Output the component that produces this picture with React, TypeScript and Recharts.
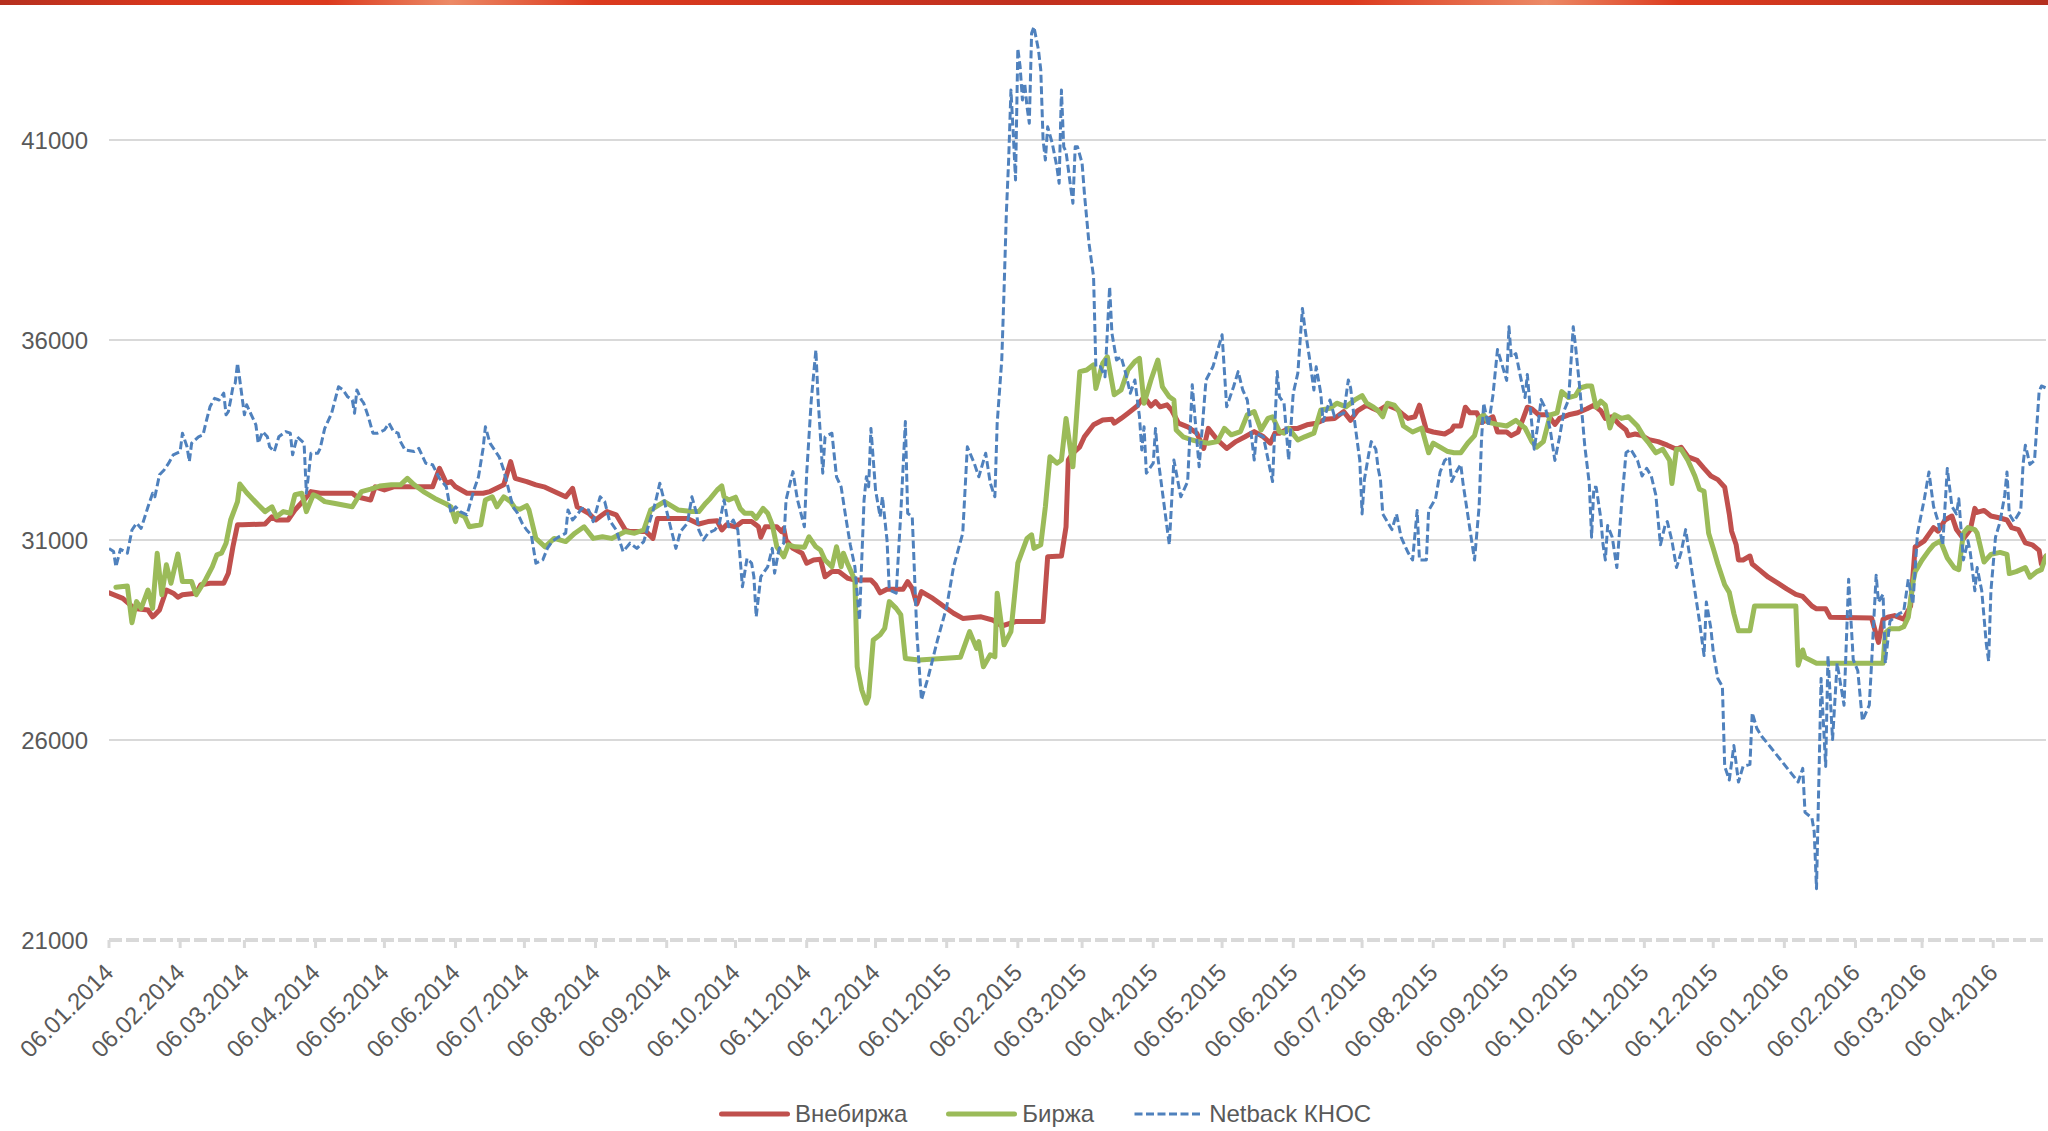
import { LineChart, Line, XAxis, YAxis, CartesianGrid, Legend } from "recharts";

// x = days since 06.01.2014, y = rub/t
const vnebirzha: [number, number][] = [
  [0, 29680], [6, 29540], [11, 29290], [17, 29250], [19, 29080], [20, 29130], [22, 29250], [23, 29420],
  [25, 29750], [28, 29670], [30, 29570], [32, 29630], [35, 29650], [38, 29670], [40, 29880], [44, 29920],
  [50, 29920], [52, 30170], [54, 30830], [56, 31380], [58, 31380], [68, 31400], [71, 31580], [73, 31500],
  [78, 31500], [81, 31750], [85, 32000], [88, 32210], [92, 32170], [106, 32170], [108, 32080], [114, 32000],
  [116, 32330], [120, 32250], [124, 32330], [141, 32330], [144, 32790], [147, 32420], [149, 32460], [151, 32330],
  [156, 32170], [163, 32170], [166, 32210], [172, 32380], [175, 32960], [177, 32540], [182, 32460], [186, 32380],
  [190, 32320], [194, 32210], [199, 32080], [202, 32290], [204, 31830], [209, 31670], [212, 31500], [215, 31630],
  [217, 31710], [221, 31630], [225, 31250], [227, 31210], [234, 31210], [237, 31040], [239, 31540], [252, 31540],
  [257, 31400], [261, 31460], [265, 31480], [267, 31250], [269, 31380], [273, 31330], [276, 31460], [280, 31460],
  [283, 31330], [284, 31070], [286, 31330], [291, 31330], [293, 31210], [294, 31290], [295, 31000], [298, 30790],
  [302, 30670], [304, 30420], [307, 30500], [310, 30520], [312, 30080], [315, 30210], [318, 30210], [322, 30040],
  [325, 30000], [332, 30000], [334, 29880], [336, 29680], [339, 29770], [346, 29770], [348, 29960], [350, 29790],
  [352, 29400], [354, 29710], [359, 29540], [364, 29330], [368, 29170], [372, 29040], [380, 29080], [385, 29000],
  [389, 28850], [395, 28960], [407, 28960], [409, 30580], [415, 30600], [417, 31330], [418, 33000], [420, 33170],
  [423, 33330], [425, 33580], [429, 33880], [433, 34000], [437, 34020], [438, 33920], [441, 34040], [444, 34170],
  [448, 34350], [451, 34580], [454, 34350], [456, 34460], [458, 34330], [461, 34380], [463, 34250], [466, 33920],
  [470, 33830], [474, 33670], [477, 33290], [479, 33790], [483, 33500], [487, 33290], [491, 33460], [495, 33580],
  [499, 33710], [503, 33580], [506, 33420], [508, 33670], [510, 33670], [514, 33790], [518, 33790], [522, 33880],
  [526, 33920], [530, 34020], [534, 34040], [538, 34210], [541, 33990], [544, 34230], [548, 34370], [551, 34280],
  [553, 34230], [557, 34370], [561, 34280], [564, 34130], [566, 34040], [569, 34080], [571, 34370], [574, 33750],
  [577, 33700], [582, 33650], [585, 33750], [586, 33850], [589, 33850], [591, 34320], [593, 34180], [596, 34180],
  [598, 33940], [600, 33990], [603, 34080], [605, 33700], [609, 33700], [611, 33610], [614, 33700], [618, 34320],
  [620, 34280], [623, 34130], [627, 34130], [630, 33890], [632, 34040], [636, 34130], [640, 34180], [644, 34280],
  [647, 34370], [650, 34230], [652, 34040], [655, 34080], [658, 33890], [661, 33750], [662, 33610], [665, 33650],
  [668, 33610], [671, 33510], [675, 33460], [679, 33370], [683, 33270], [685, 33320], [688, 33080], [692, 32990],
  [695, 32790], [698, 32600], [701, 32510], [704, 32320], [706, 31650], [707, 31220], [709, 30880], [710, 30500],
  [712, 30500], [715, 30600], [716, 30400], [719, 30260], [723, 30070], [727, 29930], [731, 29780], [735, 29640],
  [738, 29590], [742, 29350], [744, 29280], [748, 29280], [750, 29070], [768, 29050], [771, 28440], [773, 29020],
  [775, 29070], [778, 29110], [782, 29020], [785, 29350], [787, 30830], [791, 30980], [795, 31310], [797, 31220],
  [800, 31500], [803, 31600], [805, 31260], [808, 31030], [811, 31260], [813, 31790], [814, 31690], [817, 31740],
  [820, 31600], [824, 31550], [827, 31500], [829, 31310], [832, 31260], [835, 30930], [838, 30880], [841, 30740],
  [842, 30400], [844, 30600],
];

const birzha: [number, number][] = [
  [3, 29820], [8, 29850], [10, 28930], [12, 29460], [14, 29290], [16, 29600], [17, 29750], [19, 29290],
  [21, 30670], [23, 29630], [25, 30380], [27, 29920], [30, 30650], [32, 29960], [36, 29960], [38, 29630],
  [42, 30000], [45, 30330], [47, 30630], [49, 30670], [51, 30920], [53, 31500], [56, 31960], [57, 32400],
  [60, 32180], [65, 31880], [68, 31710], [71, 31830], [73, 31580], [76, 31710], [79, 31670], [81, 32130],
  [84, 32170], [86, 31710], [89, 32130], [91, 32080], [94, 31960], [98, 31920], [106, 31830], [110, 32210],
  [114, 32270], [118, 32350], [123, 32380], [127, 32380], [130, 32540], [133, 32380], [137, 32210], [142, 32040],
  [147, 31900], [149, 31830], [151, 31460], [152, 31670], [155, 31580], [157, 31330], [162, 31380], [164, 32000],
  [167, 32080], [169, 31830], [172, 32080], [175, 31960], [177, 31790], [179, 31770], [182, 31860], [183, 31750],
  [186, 31040], [190, 30830], [194, 31040], [199, 30960], [203, 31170], [207, 31330], [211, 31040], [215, 31080],
  [219, 31040], [225, 31210], [229, 31170], [233, 31250], [236, 31750], [242, 31960], [248, 31750], [254, 31710],
  [257, 31710], [260, 31920], [262, 32040], [265, 32250], [267, 32350], [268, 32080], [270, 32000], [273, 32070],
  [275, 31790], [277, 31670], [280, 31670], [282, 31540], [285, 31790], [287, 31670], [289, 31380], [291, 30830],
  [294, 30580], [296, 30880], [299, 30830], [303, 30820], [305, 31080], [308, 30830], [310, 30750], [312, 30500],
  [315, 30330], [317, 30830], [319, 30330], [320, 30670], [322, 30380], [325, 30000], [326, 27830], [328, 27250],
  [330, 26920], [331, 27080], [333, 28500], [336, 28630], [338, 28790], [340, 29460], [343, 29290], [345, 29130],
  [347, 28040], [353, 28000], [363, 28040], [371, 28070], [375, 28710], [378, 28290], [379, 28460], [381, 27830],
  [384, 28130], [386, 28080], [387, 29670], [390, 28380], [393, 28710], [396, 30420], [400, 31040], [402, 31130],
  [403, 30790], [406, 30880], [408, 31830], [410, 33080], [413, 32920], [415, 33000], [417, 34040], [420, 32830],
  [423, 35210], [426, 35250], [429, 35380], [430, 34790], [433, 35420], [435, 35580], [438, 34630], [441, 34750],
  [444, 35250], [447, 35460], [449, 35540], [451, 34420], [454, 35000], [457, 35500], [459, 34830], [462, 34580],
  [464, 34500], [465, 33750], [468, 33580], [472, 33500], [475, 33460], [479, 33420], [483, 33460], [486, 33790],
  [489, 33630], [493, 33710], [496, 34130], [499, 34210], [502, 33750], [505, 34040], [507, 34080], [510, 33710],
  [512, 33670], [514, 33790], [518, 33500], [521, 33580], [525, 33670], [528, 34250], [532, 34290], [535, 34420],
  [539, 34330], [541, 34420], [543, 34510], [546, 34610], [548, 34420], [551, 34320], [553, 34230], [555, 34080],
  [557, 34420], [560, 34370], [562, 34230], [564, 33850], [568, 33700], [572, 33800], [575, 33180], [577, 33420],
  [580, 33320], [583, 33220], [586, 33180], [589, 33180], [592, 33420], [595, 33610], [597, 34040], [599, 34130],
  [601, 33940], [605, 33890], [609, 33850], [613, 33990], [617, 33800], [620, 33460], [622, 33320], [625, 33460],
  [628, 34130], [631, 34180], [633, 34710], [636, 34560], [639, 34610], [641, 34800], [644, 34850], [646, 34850],
  [648, 34320], [650, 34470], [652, 34370], [654, 33800], [656, 34130], [659, 34040], [662, 34080], [666, 33850],
  [669, 33560], [671, 33420], [674, 33180], [677, 33270], [680, 32990], [681, 32410], [683, 33270], [685, 33270],
  [688, 32990], [691, 32600], [693, 32270], [695, 32220], [697, 31170], [699, 30790], [701, 30400], [704, 29880],
  [706, 29690], [708, 29160], [710, 28730], [715, 28730], [717, 29350], [735, 29350], [736, 27870], [738, 28250],
  [739, 28060], [744, 27920], [773, 27920], [774, 28680], [776, 28780], [780, 28780], [782, 28830], [784, 29070],
  [786, 29930], [787, 30210], [790, 30500], [793, 30740], [795, 30880], [798, 30980], [801, 30550], [804, 30310],
  [806, 30260], [808, 31170], [810, 31310], [813, 31260], [814, 31170], [817, 30450], [820, 30640], [824, 30690],
  [827, 30640], [828, 30160], [831, 30210], [835, 30310], [837, 30070], [840, 30210], [842, 30260], [844, 30600],
];

const netback: [number, number][] = [
  [0, 30790], [2, 30710], [3, 30330], [5, 30770], [8, 30670], [10, 31250], [12, 31420], [14, 31290],
  [17, 31830], [19, 32170], [20, 32080], [22, 32630], [24, 32750], [26, 32920], [28, 33130], [31, 33210],
  [32, 33670], [34, 33330], [35, 32960], [36, 33420], [39, 33580], [41, 33630], [42, 33880], [44, 34330],
  [46, 34540], [48, 34500], [50, 34670], [51, 34130], [52, 34210], [53, 34500], [54, 34830], [55, 34920],
  [56, 35420], [57, 35000], [59, 34130], [60, 34380], [62, 34130], [64, 33880], [65, 33420], [67, 33710],
  [69, 33580], [70, 33330], [72, 33210], [74, 33580], [77, 33710], [79, 33670], [80, 33130], [82, 33580],
  [85, 33420], [86, 32170], [88, 33170], [91, 33170], [92, 33290], [94, 33790], [97, 34170], [100, 34830],
  [102, 34750], [104, 34580], [106, 34500], [107, 34170], [108, 34750], [110, 34500], [111, 34420], [113, 34080],
  [115, 33670], [117, 33670], [120, 33750], [122, 33920], [124, 33710], [126, 33670], [127, 33460], [129, 33250],
  [133, 33210], [135, 33290], [138, 32920], [141, 32880], [144, 32540], [147, 32330], [149, 31670], [151, 31830],
  [153, 31710], [156, 31630], [159, 32250], [161, 32580], [163, 33290], [164, 33830], [166, 33420], [168, 33250],
  [170, 33080], [172, 32750], [174, 32290], [176, 31830], [178, 31670], [180, 31420], [182, 31250], [184, 31130],
  [186, 30420], [189, 30500], [191, 30790], [193, 30960], [196, 31080], [199, 31170], [200, 31750], [202, 31500],
  [204, 31630], [206, 31790], [209, 31750], [211, 31460], [214, 32080], [216, 31960], [218, 31500], [221, 31250],
  [224, 30710], [227, 30920], [230, 30790], [233, 30960], [236, 31540], [238, 31920], [240, 32420], [242, 31960],
  [245, 31250], [247, 30790], [249, 31210], [252, 31420], [254, 32080], [256, 31670], [257, 31250], [259, 31000],
  [261, 31170], [264, 31250], [266, 31420], [268, 32000], [270, 31330], [272, 31500], [274, 31250], [276, 29830],
  [278, 30540], [280, 30420], [281, 30080], [282, 29080], [284, 30080], [287, 30330], [289, 30790], [290, 30170],
  [292, 30790], [294, 30920], [295, 32000], [298, 32710], [300, 32000], [303, 31330], [304, 32670], [306, 34500],
  [308, 35750], [309, 34500], [311, 32670], [312, 33580], [315, 33670], [317, 32580], [319, 32330], [321, 31580],
  [323, 30880], [325, 30330], [327, 29000], [329, 32000], [330, 32580], [331, 32330], [332, 33790], [334, 32250],
  [336, 31580], [337, 32080], [339, 31000], [340, 29750], [343, 29670], [345, 31670], [347, 33960], [348, 31670],
  [350, 31580], [352, 28670], [354, 27000], [357, 27580], [361, 28500], [365, 29330], [368, 30330], [372, 31170],
  [374, 33330], [377, 32920], [379, 32580], [382, 33170], [384, 32420], [386, 32080], [387, 33920], [389, 35500],
  [390, 37250], [391, 39170], [392, 40500], [393, 42250], [394, 41170], [395, 40000], [396, 43290], [397, 42830],
  [398, 42000], [399, 42420], [400, 41830], [401, 41420], [402, 43670], [403, 43830], [405, 43250], [406, 42750],
  [407, 41000], [408, 40500], [409, 41330], [411, 40920], [413, 40330], [414, 39920], [415, 42250], [416, 40830],
  [417, 40710], [419, 39830], [420, 39420], [421, 40830], [422, 40830], [424, 40420], [425, 39670], [427, 38420],
  [428, 38000], [429, 37580], [430, 35330], [432, 35330], [434, 35080], [436, 37330], [437, 36170], [439, 35500],
  [441, 35580], [443, 35170], [445, 34670], [447, 35000], [449, 34080], [450, 33250], [451, 33830], [452, 32670],
  [455, 32920], [456, 33790], [457, 33080], [462, 30880], [464, 33000], [467, 32080], [470, 32460], [472, 34880],
  [474, 33500], [475, 32830], [478, 35000], [481, 35330], [485, 36130], [487, 34330], [490, 34830], [492, 35210],
  [494, 34750], [496, 34500], [499, 33000], [500, 33670], [503, 33580], [507, 32460], [509, 35210], [510, 34580],
  [512, 34420], [514, 33000], [516, 34670], [518, 35170], [520, 36790], [521, 36330], [523, 35580], [525, 34750],
  [526, 35330], [528, 34670], [529, 33960], [532, 34500], [534, 34080], [538, 34170], [540, 35000], [541, 34800],
  [543, 33850], [545, 32990], [546, 31650], [547, 32510], [549, 33180], [550, 33460], [552, 33270], [553, 32790],
  [554, 32510], [555, 31650], [557, 31460], [559, 31260], [561, 31650], [563, 31070], [566, 30690], [568, 30500],
  [570, 31740], [571, 30500], [574, 30500], [575, 31740], [578, 32030], [580, 32700], [582, 32990], [584, 33080],
  [585, 32460], [587, 32700], [589, 32890], [590, 32410], [592, 31650], [594, 30880], [595, 30500], [597, 31840],
  [598, 33460], [599, 34420], [601, 33850], [603, 34610], [605, 35760], [607, 35380], [609, 34990], [610, 36330],
  [611, 35570], [613, 35660], [615, 35090], [617, 34560], [618, 35140], [619, 34470], [621, 33270], [623, 34040],
  [624, 34510], [626, 34280], [628, 33750], [630, 32990], [632, 33560], [634, 34230], [636, 34510], [638, 36330],
  [639, 35850], [641, 34710], [643, 33370], [645, 32410], [646, 31070], [647, 32320], [648, 32320], [650, 31550],
  [651, 30880], [652, 30500], [653, 31360], [655, 31070], [657, 30310], [659, 31840], [661, 33180], [663, 33270],
  [666, 32990], [668, 32600], [670, 32790], [672, 32600], [674, 32120], [676, 30880], [678, 31360], [679, 31460],
  [681, 30980], [683, 30310], [685, 30690], [687, 31260], [689, 30500], [691, 29730], [693, 28970], [695, 28110],
  [696, 29450], [698, 28780], [699, 28210], [701, 27540], [703, 27340], [704, 25340], [706, 25000], [708, 25860],
  [710, 24950], [712, 25340], [715, 25390], [716, 26680], [718, 26290], [720, 26100], [724, 25820], [728, 25530],
  [732, 25240], [736, 24950], [738, 25290], [739, 24190], [742, 24050], [743, 23710], [744, 22280], [746, 27540],
  [748, 25340], [749, 28110], [751, 26010], [753, 27920], [756, 26870], [758, 30020], [760, 28010], [762, 27730],
  [764, 26480], [767, 26870], [768, 27920], [770, 30120], [771, 29450], [773, 29640], [774, 27920], [776, 28970],
  [780, 29160], [782, 29210], [784, 30020], [786, 29400], [788, 31170], [791, 32030], [793, 32700], [795, 31840],
  [797, 31460], [799, 30880], [801, 32790], [803, 31840], [805, 31650], [806, 32030], [807, 31260], [808, 30500],
  [810, 30980], [811, 30690], [813, 29730], [814, 30310], [816, 29730], [818, 28400], [819, 27970], [820, 29730],
  [822, 31070], [824, 31460], [826, 32120], [827, 32700], [828, 31650], [830, 31460], [833, 31740], [834, 32890],
  [835, 33370], [837, 32890], [839, 32990], [841, 34710], [842, 34850], [844, 34800],
];

const tickLabels = [
  "06.01.2014", "06.02.2014", "06.03.2014", "06.04.2014", "06.05.2014", "06.06.2014", "06.07.2014",
  "06.08.2014", "06.09.2014", "06.10.2014", "06.11.2014", "06.12.2014", "06.01.2015", "06.02.2015",
  "06.03.2015", "06.04.2015", "06.05.2015", "06.06.2015", "06.07.2015", "06.08.2015", "06.09.2015",
  "06.10.2015", "06.11.2015", "06.12.2015", "06.01.2016", "06.02.2016", "06.03.2016", "06.04.2016",
];
const yTicks = [21000, 26000, 31000, 36000, 41000];
const gridValues = [26000, 31000, 36000, 41000];

const seriesNames = ["Внебиржа", "Биржа", "Netback КНОС"];
const RED = "#C0504D";
const GREEN = "#9BBB59";
const BLUE = "#4F81BD";
const TEXT = "#595959";
const AXIS = "#d9d9d9";
const FONT = '"Liberation Sans", Arial, Helvetica, sans-serif';

const START = Date.UTC(2014, 0, 6);
function labelToDay(s: string): number {
  const [d, m, y] = s.split(".").map(Number);
  return Math.round((Date.UTC(y, m - 1, d) - START) / 86400000);
}
const xTicks = tickLabels.map(labelToDay);
const labelByDay = new Map(xTicks.map((d, i) => [d, tickLabels[i]]));

const toRows = (pts: [number, number][]) => pts.map(([d, v]) => ({ d, v }));

function DateTick({ x, y, payload }: any) {
  return (
    <g transform={`translate(${x},${y + 20}) rotate(-45)`}>
      <text textAnchor="end" dy="0.35em" fill={TEXT} fontSize={24} fontFamily={FONT}>
        {labelByDay.get(payload.value) ?? ""}
      </text>
    </g>
  );
}

function LegendRow() {
  const items = [
    { name: seriesNames[0], color: RED, dash: undefined, w: 5 },
    { name: seriesNames[1], color: GREEN, dash: undefined, w: 5 },
    { name: seriesNames[2], color: BLUE, dash: "8 3.5", w: 3 },
  ];
  return (
    <div
      style={{
        display: "flex",
        alignItems: "center",
        boxSizing: "border-box",
        height: 40,
        paddingTop: 5,
        paddingLeft: 719,
        gap: 39,
        fontFamily: FONT,
        fontSize: 24,
        color: TEXT,
      }}
    >
      {items.map((it) => (
        <div key={it.name} style={{ display: "flex", alignItems: "center", gap: 5 }}>
          <svg width={71} height={10}>
            <line
              x1={it.w / 2}
              x2={71 - it.w / 2}
              y1={5}
              y2={5}
              stroke={it.color}
              strokeWidth={it.w}
              strokeLinecap={it.dash ? "butt" : "round"}
              strokeDasharray={it.dash}
            />
          </svg>
          <span>{it.name}</span>
        </div>
      ))}
    </div>
  );
}

export default function App() {
  return (
    <div
      style={{
        position: "absolute",
        left: 0,
        top: 0,
        width: 2048,
        height: 1131,
        background: "#ffffff",
        overflow: "hidden",
      }}
    >
      <LineChart width={2048} height={1131} margin={{ top: 0, right: 2, bottom: 0, left: 0 }}>
        <CartesianGrid vertical={false} horizontalValues={gridValues} stroke={AXIS} strokeWidth={2} />
        <XAxis
          type="number"
          dataKey="d"
          domain={[0, 844]}
          ticks={xTicks}
          interval={0}
          allowDataOverflow
          height={151}
          tick={<DateTick />}
          tickSize={8}
          tickMargin={0}
          axisLine={{ stroke: AXIS, strokeWidth: 4, strokeDasharray: "13 4" }}
          tickLine={{ stroke: AXIS, strokeWidth: 3 }}
        />
        <YAxis
          type="number"
          domain={[21000, 44500]}
          ticks={yTicks}
          interval={0}
          allowDataOverflow
          width={109}
          axisLine={false}
          tickLine={false}
          tickSize={0}
          tickMargin={21}
          tick={{ fill: TEXT, fontSize: 24, fontFamily: FONT }}
        />
        <Legend
          verticalAlign="bottom"
          wrapperStyle={{ left: 0, bottom: 0, width: 2048, height: 40 }}
          content={() => <LegendRow />}
        />
        <Line
          data={toRows(vnebirzha)}
          dataKey="v"
          name={seriesNames[0]}
          type="linear"
          stroke={RED}
          strokeWidth={5}
          strokeLinejoin="round"
          strokeLinecap="round"
          dot={false}
          activeDot={false}
          isAnimationActive={false}
        />
        <Line
          data={toRows(birzha)}
          dataKey="v"
          name={seriesNames[1]}
          type="linear"
          stroke={GREEN}
          strokeWidth={5}
          strokeLinejoin="round"
          strokeLinecap="round"
          dot={false}
          activeDot={false}
          isAnimationActive={false}
        />
        <Line
          data={toRows(netback)}
          dataKey="v"
          name={seriesNames[2]}
          type="linear"
          stroke={BLUE}
          strokeWidth={3}
          strokeDasharray="8 3.5"
          strokeLinejoin="round"
          dot={false}
          activeDot={false}
          isAnimationActive={false}
        />
      </LineChart>
      <div
        style={{
          position: "absolute",
          left: 0,
          top: 0,
          width: 2048,
          height: 5,
          background:
            "linear-gradient(90deg, #b5301f 0%, #d8371d 8%, #dc3a1e 16%, #ec8a66 22%, #dc3a1e 29%, #c0301f 50%, #dc3a1e 66%, #ec8a66 75.5%, #dc3a1e 82%, #b5301f 100%)",
        }}
      />
    </div>
  );
}
